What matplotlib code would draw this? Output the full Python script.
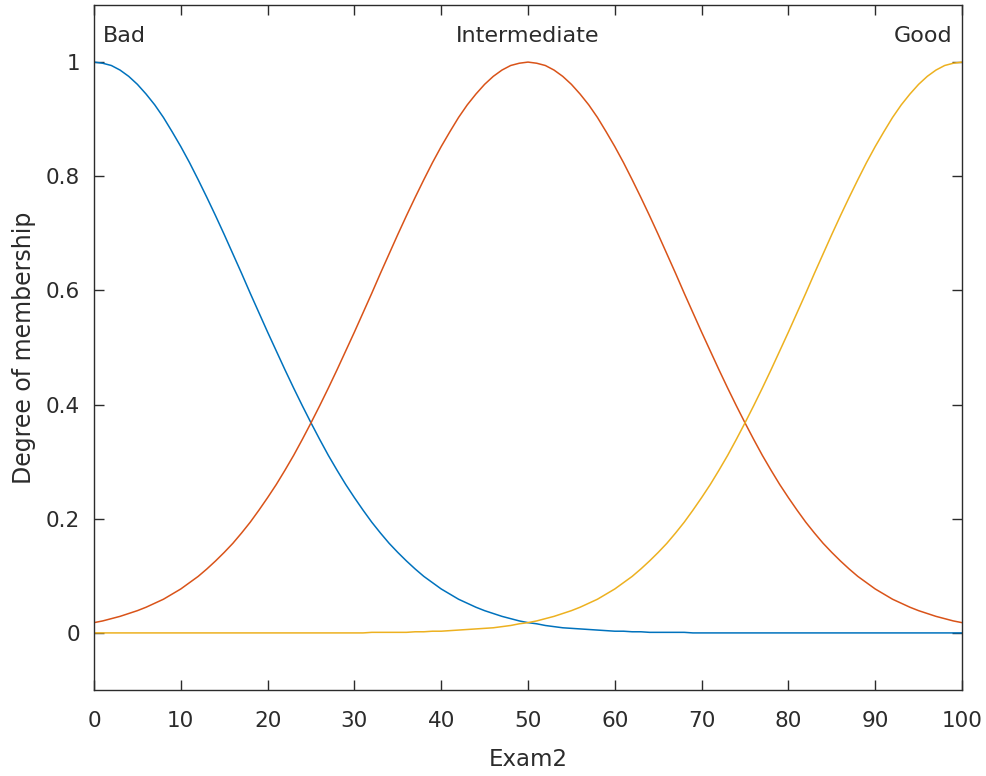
import matplotlib
matplotlib.use("Agg")
import matplotlib.pyplot as plt

plt.rcParams['font.family'] = ['DejaVu Sans']

# x positions where the curves were read (Exam2 score, 0..100 step 1)
exam2 = list(range(0, 101))

bad = [1.000, 0.998, 0.994, 0.986, 0.975, 0.961, 0.944, 0.925, 0.903, 0.878,
       0.852, 0.824, 0.794, 0.763, 0.731, 0.698, 0.664, 0.630, 0.595, 0.561,
       0.527, 0.494, 0.461, 0.429, 0.398, 0.368, 0.339, 0.311, 0.285, 0.260,
       0.237, 0.215, 0.194, 0.175, 0.157, 0.141, 0.126, 0.112, 0.099, 0.088,
       0.077, 0.068, 0.059, 0.052, 0.045, 0.039, 0.034, 0.029, 0.025, 0.021,
       0.018, 0.016, 0.013, 0.011, 0.009, 0.008, 0.007, 0.006, 0.005, 0.004,
       0.003, 0.003, 0.002, 0.002, 0.001, 0.001, 0.001, 0.001, 0.001, 0.000,
       0.000, 0.000, 0.000, 0.000, 0.000, 0.000, 0.000, 0.000, 0.000, 0.000,
       0.000, 0.000, 0.000, 0.000, 0.000, 0.000, 0.000, 0.000, 0.000, 0.000,
       0.000, 0.000, 0.000, 0.000, 0.000, 0.000, 0.000, 0.000, 0.000, 0.000,
       0.000]

intermediate = [0.018, 0.021, 0.025, 0.029, 0.034, 0.039, 0.045, 0.052, 0.059, 0.068,
                0.077, 0.088, 0.099, 0.112, 0.126, 0.141, 0.157, 0.175, 0.194, 0.215,
                0.237, 0.260, 0.285, 0.311, 0.339, 0.368, 0.398, 0.429, 0.461, 0.494,
                0.527, 0.561, 0.595, 0.630, 0.664, 0.698, 0.731, 0.763, 0.794, 0.824,
                0.852, 0.878, 0.903, 0.925, 0.944, 0.961, 0.975, 0.986, 0.994, 0.998,
                1.000, 0.998, 0.994, 0.986, 0.975, 0.961, 0.944, 0.925, 0.903, 0.878,
                0.852, 0.824, 0.794, 0.763, 0.731, 0.698, 0.664, 0.630, 0.595, 0.561,
                0.527, 0.494, 0.461, 0.429, 0.398, 0.368, 0.339, 0.311, 0.285, 0.260,
                0.237, 0.215, 0.194, 0.175, 0.157, 0.141, 0.126, 0.112, 0.099, 0.088,
                0.077, 0.068, 0.059, 0.052, 0.045, 0.039, 0.034, 0.029, 0.025, 0.021,
                0.018]

good = [0.000, 0.000, 0.000, 0.000, 0.000, 0.000, 0.000, 0.000, 0.000, 0.000,
        0.000, 0.000, 0.000, 0.000, 0.000, 0.000, 0.000, 0.000, 0.000, 0.000,
        0.000, 0.000, 0.000, 0.000, 0.000, 0.000, 0.000, 0.000, 0.000, 0.000,
        0.000, 0.000, 0.001, 0.001, 0.001, 0.001, 0.001, 0.002, 0.002, 0.003,
        0.003, 0.004, 0.005, 0.006, 0.007, 0.008, 0.009, 0.011, 0.013, 0.016,
        0.018, 0.021, 0.025, 0.029, 0.034, 0.039, 0.045, 0.052, 0.059, 0.068,
        0.077, 0.088, 0.099, 0.112, 0.126, 0.141, 0.157, 0.175, 0.194, 0.215,
        0.237, 0.260, 0.285, 0.311, 0.339, 0.368, 0.398, 0.429, 0.461, 0.494,
        0.527, 0.561, 0.595, 0.630, 0.664, 0.698, 0.731, 0.763, 0.794, 0.824,
        0.852, 0.878, 0.903, 0.925, 0.944, 0.961, 0.975, 0.986, 0.994, 0.998,
        1.000]

mf_names = ["Bad", "Intermediate", "Good"]
x_ticks = [0, 10, 20, 30, 40, 50, 60, 70, 80, 90, 100]
y_ticks = [0, 0.2, 0.4, 0.6, 0.8, 1]
y_tick_labels = ["0", "0.2", "0.4", "0.6", "0.8", "1"]

colors = ["#0072BD", "#D95319", "#EDB120"]
ink = "#2b2b2b"

fig = plt.figure(figsize=(9.86, 7.76), dpi=100)
ax = fig.add_axes([94 / 986, 1 - 690 / 776, (962 - 94) / 986, (690 - 5) / 776])

for y, c in zip([bad, intermediate, good], colors):
    ax.plot(exam2, y, color=c, lw=1.1)

ax.set_xlim(0, 100)
ax.set_ylim(-0.1, 1.1)
ax.set_xticks(x_ticks)
ax.set_yticks(y_ticks)
ax.set_yticklabels(y_tick_labels)
ax.tick_params(direction="in", top=True, right=True, length=7, width=1,
               color=ink, labelcolor=ink, labelsize=15.5)
ax.tick_params(axis="y", pad=10)
ax.tick_params(axis="x", pad=15)
for s in ax.spines.values():
    s.set_color(ink)
    s.set_linewidth(1.0)

ax.set_xlabel("Exam2", fontsize=16.5, color=ink, labelpad=12)
ax.set_ylabel("Degree of membership", fontsize=17, color=ink, labelpad=7)

label_y = 1.045
ax.text(1.0, label_y, mf_names[0], ha="left", va="center", fontsize=16, color=ink)
ax.text(50, label_y, mf_names[1], ha="center", va="center", fontsize=16, color=ink)
ax.text(98.9, label_y, mf_names[2], ha="right", va="center", fontsize=16, color=ink)

fig.savefig("out.png", dpi=100, facecolor="white")
